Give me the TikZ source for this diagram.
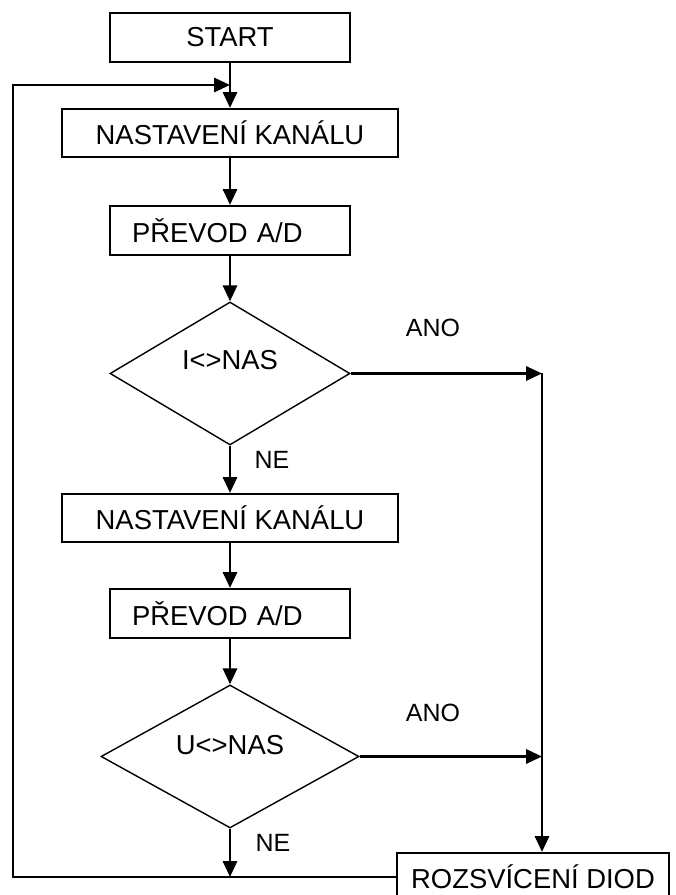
\documentclass[tikz,border=0pt]{standalone}
\usepackage{fontspec}
\setmainfont{Liberation Sans}
\usepackage{tikz}
\tikzstyle{blok}=[rectangle, draw, line width=1.2pt, inner sep=0pt, minimum height=0.96cm]
\tikzstyle{podminka}=[diamond, draw, line width=0.8pt, inner sep=0pt, minimum height=2.86cm]
\newcommand{\blok}{\node[blok]}
\newcommand{\podminka}{\node[podminka]}
\usetikzlibrary{arrows.meta,shapes.geometric,calc}

\begin{document}
\begin{tikzpicture}[font=\fontsize{15.6}{18}\selectfont]
	\tikzstyle{sipka}=[-{Triangle[length=9pt,width=8pt]}, line width=1.5pt]
	\tikzstyle{doleva}=[text width=3.92cm, inner xsep=0.44cm, align=left]
	\tikzstyle{popis}=[font=\fontsize{14.2}{17}\selectfont]
	\useasboundingbox (0,0) rectangle (13.5,17.9);
	\clip (0,0) rectangle (13.5,17.9);
	% Bloky
	\blok (start) at (4.6,17.15) [minimum width=4.8cm, minimum height=0.98cm] {START};
	\blok (nast1) at (4.6,15.24) [minimum width=6.72cm] {NASTAVENÍ KANÁLU};
	\blok (prev1) at (4.6,13.29) [doleva, minimum height=0.98cm] {PŘEVOD A/D};
	\podminka (dotaz1) at (4.6,10.43) [minimum width=4.8cm, label={[yshift=0.26cm]center:I<>NAS}] {};
	\blok (nast2) at (4.6,7.54) [minimum width=6.72cm] {NASTAVENÍ KANÁLU};
	\blok (prev2) at (4.6,5.63) [doleva, minimum height=0.98cm] {PŘEVOD A/D};
	\podminka (dotaz2) at (4.6,2.77) [minimum width=5.16cm, label={[yshift=0.23cm]center:U<>NAS}] {};
	\blok (rozsv) at (10.66,0.36) [minimum width=5.44cm] {ROZSVÍCENÍ DIOD};
	% Popisky
	\node[popis] (ano1) at (8.66,11.34) {ANO};
	\node[popis] (ne1) at (5.44,8.7) {NE};
	\node[popis] (ano2) at (8.66,3.64) {ANO};
	\node[popis] (ne2) at (5.46,1.04) {NE};
	% Pomocne body
	\coordinate (spoj1) at (10.84,10.43);
	\coordinate (spoj2) at (10.84,2.77);
	\coordinate (dole) at (4.6,0.36);
	\coordinate (roh) at (0.26,16.2);
	\coordinate (zpet) at (4.6,16.2);

	\path
	(start) edge[sipka] (nast1)
	(nast1) edge[sipka] (prev1)
	(prev1) edge[sipka] (dotaz1)
	(dotaz1) edge[sipka] (nast2)
	(nast2) edge[sipka] (prev2)
	(prev2) edge[sipka] (dotaz2)
	(dotaz2) edge[sipka] (dole)
	% Vetev ANO
	(dotaz1) edge[sipka] (spoj1)
	(dotaz2) edge[sipka] (spoj2)
	;
	\draw[sipka] (spoj1) -- (spoj1 |- rozsv.north);
	% Navrat
	\draw[sipka] (rozsv.west) -| (roh) -- (zpet);
\end{tikzpicture}
\end{document}
